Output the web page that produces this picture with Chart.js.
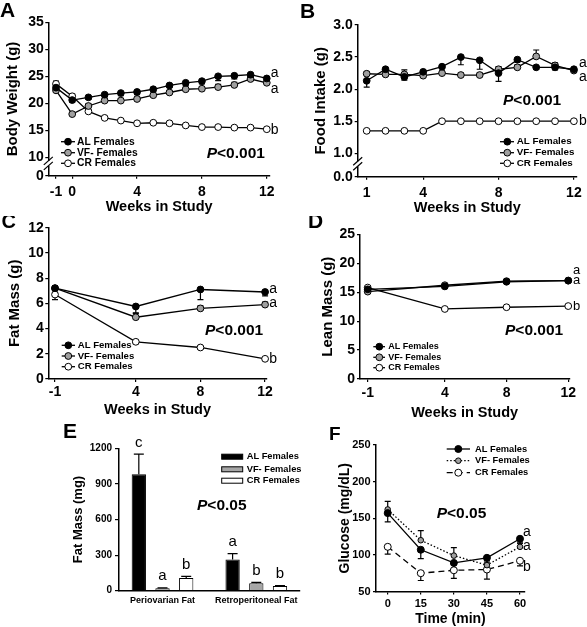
<!DOCTYPE html>
<html><head><meta charset="utf-8">
<script src="https://cdn.jsdelivr.net/npm/chart.js@4"></script>
<style>html,body{margin:0;padding:0;background:#fff;width:587px;height:627px;overflow:hidden;position:relative}canvas{position:absolute}</style>
</head><body>
<script>
// ================= DATA =================
const seriesNames = ['AL Females', 'VF- Females', 'CR Females'];

// Panel A: body weight
const A_weeks = [-1,0,1,2,3,4,5,6,7,8,9,10,11,12];
const A_AL = [22.9,20.6,21.1,21.6,21.9,22.1,22.6,23.3,23.8,24.1,25.0,25.1,25.3,24.6];
const A_VF = [22.4,18.0,19.5,20.5,20.5,20.8,21.5,22.0,22.6,22.7,23.0,23.4,24.5,23.8];
const A_CR = [23.6,21.3,18.5,17.3,16.8,16.3,16.4,16.3,15.9,15.6,15.6,15.5,15.5,15.2];
const A_AL_err = [0.5,0.4,0.4,0.4,0.5,0.5,0.4,0.4,0.5,0.5,0.8,0.6,0.5,0.5];
const A_VF_err = [0.4,0.3,0.4,0.4,0.4,0.4,0.4,0.4,0.4,0.4,0.5,0.5,0.4,0.4];
const A_CR_err = [0.5,0.4,0.3,0.3,0.2,0.2,0.2,0.2,0.2,0.2,0.2,0.2,0.2,0.2];
const A_xTicks = [-1,0,4,8,12];
const A_yTicks = [0,10,15,20,25,30,35];
const A_letters = ['a','a','b'];
const A_letterY = [25.5,22.7,15.1];

// Panel B: food intake
const B_weeks = [1,2,3,4,5,6,7,8,9,10,11,12];
const B_AL = [2.13,2.31,2.19,2.27,2.35,2.50,2.45,2.25,2.46,2.34,2.34,2.31];
const B_VF = [2.24,2.23,2.23,2.21,2.25,2.22,2.22,2.31,2.34,2.51,2.37,2.29];
const B_CR = [1.35,1.35,1.35,1.35,1.50,1.50,1.50,1.50,1.50,1.50,1.50,1.50];
const B_AL_err = [0.10,0.03,0.05,0.03,0.03,0.12,0.14,0.13,0.04,0.03,0.04,0.04];
const B_VF_err = [0.03,0.03,0.07,0.03,0.03,0.03,0.03,0.04,0.04,0.10,0.04,0.04];
const B_CR_err = [0,0,0,0,0,0,0,0,0,0,0,0];
const B_xTicks = [1,4,8,12];
const B_yTicks = [0,1.0,1.5,2.0,2.5,3.0];
const B_letters = ['a','a','b'];
const B_letterY = [2.40,2.18,1.50];

// Panel C: fat mass
const C_weeks = [-1,4,8,12];
const C_AL = [7.2,5.75,7.1,6.9];
const C_VF = [7.2,4.9,5.6,5.9];
const C_CR = [6.7,2.95,2.5,1.6];
const C_AL_err = [0.3,0.5,0.8,0.3];
const C_VF_err = [0.2,0.3,0.2,0.2];
const C_CR_err = [0.4,0.15,0.1,0.1];
const C_xTicks = [-1,4,8,12];
const C_yTicks = [0,2,4,6,8,10,12];
const C_letters = ['a','a','b'];
const C_letterY = [7.1,6.0,1.6];

// Panel D: lean mass
const D_weeks = [-1,4,8,12];
const D_AL = [15.5,16.0,16.8,17.0];
const D_VF = [15.1,16.2,16.9,17.0];
const D_CR = [15.8,12.1,12.4,12.6];
const D_AL_err = [0.3,0.3,0.3,0.3];
const D_VF_err = [0.3,0.3,0.3,0.3];
const D_CR_err = [0.3,0.2,0.2,0.2];
const D_xTicks = [-1,4,8,12];
const D_yTicks = [0,5,10,15,20,25];
const D_letters = ['a','a','b'];
const D_letterY = [18.8,17.0,12.5];

// Panel E: fat depots
const E_groups = ['Periovarian Fat', 'Retroperitoneal Fat'];
const E_AL = [981, 263];
const E_VF = [20, 62];
const E_CR = [107, 40];
const E_AL_err = [170, 50];
const E_VF_err = [4, 8];
const E_CR_err = [13, 4];
const E_AL_letters = ['c','a'];
const E_VF_letters = ['a','b'];
const E_CR_letters = ['b','b'];
const E_yTicks = [0,300,600,900,1200];

// Panel F: glucose tolerance
const F_time = [0,15,30,45,60];
const F_AL = [157,107,89,96,122];
const F_VF = [162,120,99,86,111];
const F_CR = [111,75,79,80,92];
const F_AL_err = [12,12,8,6,6];
const F_VF_err = [11,13,11,6,5];
const F_CR_err = [10,10,11,13,7];
const F_xTicks = [0,15,30,45,60];
const F_yTicks = [50,100,150,200,250];
const F_letters = ['a','a','b'];
const F_letterY = [131,112,83];

const P_001 = '<0.001';
const P_05 = '<0.05';

// ================= RENDERING =================
const FONT = "'Liberation Sans', Arial, Helvetica, sans-serif";
Chart.defaults.font.family = FONT;
Chart.defaults.color = '#000';
Chart.defaults.animation = false;

const STD_STYLES = [
  {bg:'#000', r:3.4, dash:[]},
  {bg:'#a0a0a0', r:3.4, dash:[]},
  {bg:'#fff', r:3.4, dash:[]}
];
const F_STYLES = [
  {bg:'#000', r:3.5, dash:[]},
  {bg:'#a0a0a0', r:2.8, dash:[1.5,2]},
  {bg:'#fff', r:3.5, dash:[6,4]}
];

function makeCanvas(box){
  const c = document.createElement('canvas');
  c.width = box.w; c.height = box.h;
  c.style.left = box.x+'px'; c.style.top = box.y+'px';
  c.style.width = box.w+'px'; c.style.height = box.h+'px';
  document.body.appendChild(c);
  return c;
}

function linAxis(pos, o, box){
  const isY = pos === 'left';
  const lh = (o.tfs||14)*1.2;
  let tpad = {top:0,bottom:0};
  if (o.title) {
    if (isY) tpad = {top:(o.titleC - box.x) - lh/2, bottom:0};
    else tpad = {top:0, bottom:(box.y + box.h - o.titleC) - lh/2};
  }
  return {
    type:'linear', position:pos, min:o.min, max:o.max, offset:false,
    afterBuildTicks: s => { s.ticks = o.ticks.map(v => ({value:v})); },
    afterFit: s => { if (isY) s.width = o.size; else s.height = o.size; },
    ticks: { autoSkip:false, maxRotation:0, minRotation:0, padding:o.pad,
             font:{size:o.fs, weight:'bold'}, color:'#000',
             callback:(v,i) => o.labels[i] },
    grid: { display:true, drawOnChartArea:false, drawTicks:o.tl>0, tickLength:o.tl,
            color:'#000', lineWidth:1.2, offset:false },
    border: { display:true, color:'#000', width:1.5 },
    title: { display:!!o.title, text:o.title||'', font:{size:o.tfs||14, weight:'bold'},
             color:'#000', padding:tpad }
  };
}

// dir: 'up' | 'down' | 'both'
function drawErrors(ch, cw){
  const ctx = ch.ctx, ys = ch.scales.y;
  ch.data.datasets.forEach((ds, di) => {
    if (!ds.errs) return;
    const dir = ds.errDir || 'both';
    const meta = ch.getDatasetMeta(di);
    meta.data.forEach((el, j) => {
      const v = ds.data[j].y, e = ds.errs[j];
      if (!e) return;
      const yt = dir === 'down' ? el.y : ys.getPixelForValue(v + e);
      const yb = dir === 'up' ? el.y : ys.getPixelForValue(v - e);
      ctx.save();
      ctx.strokeStyle = '#000'; ctx.lineWidth = 1.2; ctx.setLineDash([]);
      ctx.beginPath();
      ctx.moveTo(el.x, yt); ctx.lineTo(el.x, yb);
      if (dir !== 'down') { ctx.moveTo(el.x - cw, yt); ctx.lineTo(el.x + cw, yt); }
      if (dir !== 'up') { ctx.moveTo(el.x - cw, yb); ctx.lineTo(el.x + cw, yb); }
      ctx.stroke();
      ctx.restore();
    });
  });
}

function drawP(ctx, x, y, txt, fs){
  ctx.save();
  ctx.fillStyle = '#000'; ctx.textAlign = 'left'; ctx.textBaseline = 'alphabetic';
  ctx.font = `italic bold ${fs}px ${FONT}`;
  ctx.fillText('P', x, y);
  const w = ctx.measureText('P').width;
  ctx.font = `bold ${fs}px ${FONT}`;
  ctx.fillText(txt, x + w, y);
  ctx.restore();
}

function drawPanelLetter(ctx, t, x, y, fs){
  ctx.save();
  ctx.fillStyle = '#000'; ctx.textAlign = 'left'; ctx.textBaseline = 'alphabetic';
  ctx.font = `bold ${fs}px ${FONT}`;
  ctx.fillText(t, x, y);
  ctx.restore();
}

function drawLineLegend(ctx, L, styles){
  ctx.save();
  styles.forEach((st, i) => {
    const y = L.rows[i];
    ctx.strokeStyle = '#000'; ctx.lineWidth = 1.3; ctx.setLineDash(st.dash);
    ctx.beginPath(); ctx.moveTo(L.x1, y); ctx.lineTo(L.x2, y); ctx.stroke();
    ctx.setLineDash([]);
    ctx.beginPath(); ctx.arc(L.mx, y, st.r, 0, Math.PI*2);
    ctx.fillStyle = st.bg; ctx.fill(); ctx.lineWidth = 1; ctx.stroke();
    ctx.fillStyle = '#000'; ctx.textAlign = 'left'; ctx.textBaseline = 'middle';
    ctx.font = `bold ${L.fs}px ${FONT}`;
    ctx.fillText(seriesNames[i], L.tx, y);
  });
  ctx.restore();
}

function drawBreak(ctx, ch, frac){
  const a = ch.chartArea;
  const ys = ch.scales.y;
  const t1 = ys.getPixelForValue(ys.ticks[1].value);
  const yc = t1 + (a.bottom - t1) * frac;
  const x = a.left;
  ctx.save();
  ctx.fillStyle = '#fff';
  ctx.fillRect(x - 2, yc - 2.5, 4, 5);
  ctx.strokeStyle = '#000'; ctx.lineWidth = 1.2;
  [-2.5, 2.5].forEach(d => {
    ctx.beginPath(); ctx.moveTo(x - 4.5, yc + d + 4); ctx.lineTo(x + 4.5, yc + d - 4); ctx.stroke();
  });
  ctx.restore();
}

function drawLetters(ctx, ch, lastX, letters, ys, dx, fs){
  ctx.save();
  ctx.fillStyle = '#000'; ctx.textAlign = 'center'; ctx.textBaseline = 'middle';
  ctx.font = `${fs}px ${FONT}`;
  const x = ch.scales.x.getPixelForValue(lastX) + dx;
  letters.forEach((l, i) => ctx.fillText(l, x, ch.scales.y.getPixelForValue(ys[i])));
  ctx.restore();
}

function lineDS(label, xs, ys, errs, dir, st){
  return {
    label, data: xs.map((x, i) => ({x, y: ys[i]})), errs, errDir: dir,
    borderColor:'#000', borderWidth:1.3, borderDash: st.dash,
    backgroundColor: st.bg, pointBackgroundColor: st.bg, pointBorderColor:'#000',
    pointBorderWidth:1, pointRadius: st.r, pointHoverRadius: st.r,
    tension:0, fill:false, clip:false
  };
}

function linePanel(cfg){
  const {box, plot} = cfg;
  const cv = makeCanvas(box);
  const datasets = cfg.series.map((s, i) => lineDS(seriesNames[i], cfg.xs, s.ys, s.errs, s.dir, cfg.styles[i]));
  const xAxis = linAxis('bottom', Object.assign({size: box.y + box.h - plot.b}, cfg.x), box);
  const yAxis = linAxis('left', Object.assign({size: plot.l - box.x}, cfg.y), box);
  return new Chart(cv, {
    type:'line',
    data:{datasets},
    options:{
      responsive:false, animation:false, events:[],
      layout:{autoPadding:false, padding:{left:0, top: plot.t - box.y, right: box.x + box.w - plot.r, bottom:0}},
      plugins:{legend:{display:false}, tooltip:{enabled:false}, title:{display:false}},
      scales:{x:xAxis, y:yAxis}
    },
    plugins:[{
      id:'annot',
      beforeDatasetsDraw(ch){ drawErrors(ch, 3); },
      afterDraw(ch){
        const ctx = ch.ctx;
        if (cfg.breakFrac) drawBreak(ctx, ch, cfg.breakFrac);
        drawLetters(ctx, ch, cfg.xs[cfg.xs.length - 1], cfg.letters, cfg.letterY, cfg.letterDx, cfg.letterFs);
        ctx.save(); ctx.translate(-box.x, -box.y);
        drawLineLegend(ctx, cfg.legend, cfg.styles);
        drawP(ctx, cfg.p.x, cfg.p.y, cfg.p.text, cfg.p.fs);
        drawPanelLetter(ctx, cfg.panel.t, cfg.panel.x, cfg.panel.y, cfg.panel.fs);
        ctx.restore();
      }
    }]
  });
}

// ---------- Panel A ----------
const A_break = 6.593;
linePanel({
  box:{x:0, y:0, w:290, h:216}, plot:{l:48.3, t:22.3, r:270, b:175.7},
  xs:A_weeks,
  series:[{ys:A_AL, errs:A_AL_err, dir:'down'}, {ys:A_VF, errs:A_VF_err, dir:'up'}, {ys:A_CR, errs:A_CR_err, dir:'up'}],
  styles:STD_STYLES,
  x:{min:-1.475, max:12.2, ticks:A_xTicks, labels:A_xTicks.map(String), fs:14, tl:3, pad:4.6,
     title:'Weeks in Study', tfs:14.5, titleC:206.7},
  y:{min:A_break, max:35, ticks:A_yTicks.map(v => v < 10 ? A_break : v), labels:A_yTicks.map(String),
     fs:14, tl:3, pad:1.5, title:'Body Weight (g)', tfs:15, titleC:13.3},
  breakFrac:0.33,
  letters:A_letters, letterY:A_letterY, letterDx:8, letterFs:14,
  legend:{x1:61, x2:75, mx:68, tx:77, rows:[141.7,152.7,163.3], fs:10.3},
  p:{x:206.7, y:158.3, text:P_001, fs:15.5},
  panel:{t:'A', x:0, y:17, fs:21}
});

// ---------- Panel B ----------
const B_break = 0.635;
linePanel({
  box:{x:290, y:0, w:297, h:216}, plot:{l:357.7, t:25, r:577.3, b:176.7},
  xs:B_weeks,
  series:[{ys:B_AL, errs:B_AL_err, dir:'down'}, {ys:B_VF, errs:B_VF_err, dir:'up'}, {ys:B_CR, errs:B_CR_err, dir:'down'}],
  styles:STD_STYLES,
  x:{min:0.523, max:12.16, ticks:B_xTicks, labels:B_xTicks.map(String), fs:14, tl:3, pad:5.2,
     title:'Weeks in Study', tfs:14.5, titleC:208.3},
  y:{min:B_break, max:3.0, ticks:B_yTicks.map(v => v < 1 ? B_break : v), labels:B_yTicks.map(v => v.toFixed(1)),
     fs:14, tl:3, pad:2, title:'Food Intake (g)', tfs:15, titleC:320.7},
  breakFrac:0.45,
  letters:B_letters, letterY:B_letterY, letterDx:9, letterFs:14,
  legend:{x1:500, x2:514, mx:507.3, tx:516.7, rows:[141.7,152.7,163.3], fs:9.8},
  p:{x:503, y:105, text:P_001, fs:15.5},
  panel:{t:'B', x:300, y:18.3, fs:21}
});

// ---------- Panel C ----------
linePanel({
  box:{x:0, y:216, w:290, h:204}, plot:{l:48.3, t:227.7, r:266.7, b:379},
  xs:C_weeks,
  series:[{ys:C_AL, errs:C_AL_err, dir:'down'}, {ys:C_VF, errs:C_VF_err, dir:'up'}, {ys:C_CR, errs:C_CR_err, dir:'down'}],
  styles:STD_STYLES,
  x:{min:-1.415, max:12.1, ticks:C_xTicks, labels:C_xTicks.map(String), fs:14, tl:3, pad:2,
     title:'Weeks in Study', tfs:14.5, titleC:410},
  y:{min:0, max:12, ticks:C_yTicks, labels:C_yTicks.map(String),
     fs:14, tl:3, pad:1.5, title:'Fat Mass (g)', tfs:15, titleC:15},
  letters:C_letters, letterY:C_letterY, letterDx:8, letterFs:14,
  legend:{x1:61.7, x2:75, mx:68.3, tx:77.7, rows:[345.3,356,366.7], fs:9.6},
  p:{x:205, y:335, text:P_001, fs:15.5},
  panel:{t:'C', x:1.5, y:228.3, fs:20}
});

// ---------- Panel D ----------
linePanel({
  box:{x:290, y:216, w:297, h:204}, plot:{l:360, t:234.3, r:569.3, b:379},
  xs:D_weeks,
  series:[{ys:D_AL, errs:D_AL_err, dir:'down'}, {ys:D_VF, errs:D_VF_err, dir:'up'}, {ys:D_CR, errs:D_CR_err, dir:'down'}],
  styles:STD_STYLES,
  x:{min:-1.5, max:12.07, ticks:D_xTicks, labels:D_xTicks.map(String), fs:14, tl:3, pad:2.4,
     title:'Weeks in Study', tfs:14.5, titleC:413.3},
  y:{min:0, max:25, ticks:D_yTicks, labels:D_yTicks.map(String),
     fs:14, tl:3, pad:2, title:'Lean Mass (g)', tfs:15, titleC:328.3},
  letters:D_letters, letterY:D_letterY, letterDx:8.5, letterFs:13,
  legend:{x1:373.3, x2:385, mx:379.3, tx:388.3, rows:[346.7,357.3,367.7], fs:9},
  p:{x:505, y:335, text:P_001, fs:15.5},
  panel:{t:'D', x:308, y:228.3, fs:21}
});

// ---------- Panel E (bars) ----------
(function(){
  const box = {x:0, y:420, w:310, h:207}, plot = {l:119, t:448.3, r:300, b:590.7};
  const cv = makeCanvas(box);
  const barStyles = [{bg:'#000'}, {bg:'#a6a6a6'}, {bg:'#fff'}];
  const vals = [E_AL, E_VF, E_CR], errs = [E_AL_err, E_VF_err, E_CR_err];
  const letters = [E_AL_letters, E_VF_letters, E_CR_letters];
  const datasets = vals.map((v, i) => ({
    label: seriesNames[i], data: E_groups.map((g, j) => ({x:j, y:v[j]})), errs: errs[i], errDir:'up',
    backgroundColor: barStyles[i].bg, borderColor:'#000', borderWidth:1, borderSkipped:'start',
    categoryPercentage:0.758, barPercentage:0.603
  }));
  const xAxis = linAxis('bottom', {size: box.y + box.h - plot.b, min:-0.464, max:1.466,
      ticks:[0,1], labels:E_groups, fs:9, tl:0, pad:4.2}, box);
  const yAxis = linAxis('left', {size: plot.l - box.x, min:0, max:1200, ticks:E_yTicks,
      labels:E_yTicks.map(String), fs:10, tl:4, pad:3, title:'Fat Mass (mg)', tfs:13, titleC:78}, box);
  new Chart(cv, {
    type:'bar',
    data:{datasets},
    options:{
      responsive:false, animation:false, events:[],
      layout:{autoPadding:false, padding:{left:0, top: plot.t - box.y, right: box.x + box.w - plot.r, bottom:0}},
      plugins:{legend:{display:false}, tooltip:{enabled:false}, title:{display:false}},
      scales:{x:xAxis, y:yAxis}
    },
    plugins:[{
      id:'annotE',
      afterDatasetsDraw(ch){ drawErrors(ch, 5); },
      afterDraw(ch){
        const ctx = ch.ctx, ys = ch.scales.y;
        ctx.save();
        ctx.fillStyle = '#000'; ctx.textAlign = 'center'; ctx.textBaseline = 'middle';
        ctx.font = `15px ${FONT}`;
        ch.data.datasets.forEach((ds, di) => {
          ch.getDatasetMeta(di).data.forEach((el, j) => {
            const top = ys.getPixelForValue(ds.data[j].y + ds.errs[j]);
            ctx.fillText(letters[di][j], el.x, top - 11.5);
          });
        });
        ctx.restore();
        ctx.save(); ctx.translate(-box.x, -box.y);
        const rows = [456.7, 469.3, 480.7];
        barStyles.forEach((st, i) => {
          ctx.fillStyle = st.bg; ctx.strokeStyle = '#000'; ctx.lineWidth = 1;
          ctx.fillRect(221.7, rows[i] - 2.5, 21, 5);
          ctx.strokeRect(221.7, rows[i] - 2.5, 21, 5);
          ctx.fillStyle = '#000'; ctx.textAlign = 'left'; ctx.textBaseline = 'middle';
          ctx.font = `bold 9.3px ${FONT}`;
          ctx.fillText(seriesNames[i], 246.7, rows[i]);
        });
        drawP(ctx, 197, 510, P_05, 15.5);
        drawPanelLetter(ctx, 'E', 63, 438, 21);
        ctx.restore();
      }
    }]
  });
})();

// ---------- Panel F ----------
linePanel({
  box:{x:310, y:420, w:277, h:207}, plot:{l:376, t:445, r:525, b:591.5},
  xs:F_time,
  series:[{ys:F_AL, errs:F_AL_err, dir:'down'}, {ys:F_VF, errs:F_VF_err, dir:'up'}, {ys:F_CR, errs:F_CR_err, dir:'down'}],
  styles:F_STYLES,
  x:{min:-5.31, max:62.27, ticks:F_xTicks, labels:F_xTicks.map(String), fs:11, tl:3, pad:2.9,
     title:'Time (min)', tfs:14, titleC:619},
  y:{min:50, max:250, ticks:F_yTicks, labels:F_yTicks.map(String),
     fs:11, tl:3, pad:2.5, title:'Glucose (mg/dL)', tfs:14, titleC:345},
  letters:F_letters, letterY:F_letterY, letterDx:7, letterFs:14,
  legend:{x1:446.7, x2:470, mx:458.3, tx:475, rows:[449,460.7,472.7], fs:9.3},
  p:{x:436.7, y:518.3, text:P_05, fs:15.5},
  panel:{t:'F', x:329, y:440, fs:19}
});
</script>
</body></html>
